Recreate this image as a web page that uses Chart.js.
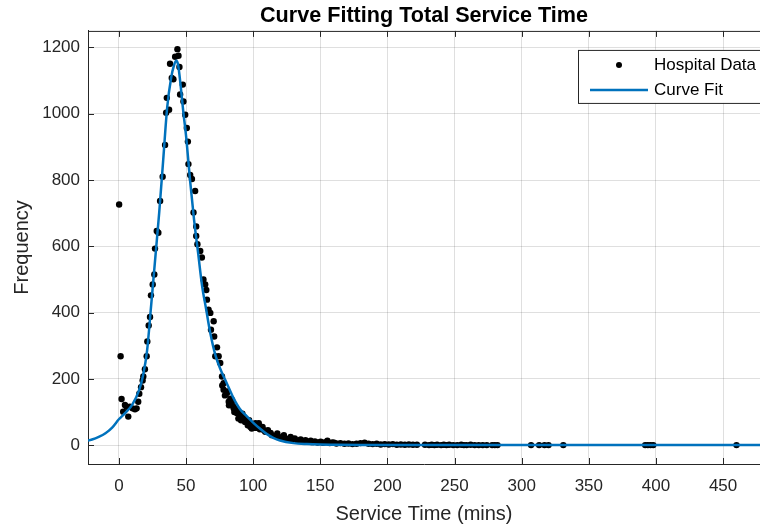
<!DOCTYPE html>
<html>
<head>
<meta charset="utf-8">
<title>Curve Fitting Total Service Time</title>
<script src="https://cdn.jsdelivr.net/npm/chart.js@4.4.1/dist/chart.umd.min.js"></script>
<style>
    body { margin: 0; background: #fff; overflow: hidden; }
    canvas { display: block; }
</style>
</head>
<body>
<canvas id="fitChart" width="760" height="529"></canvas>
<script>
// hospital data (service time in mins, frequency)
const dataX = [
    0.2, 1.3, 2, 3.2, 4.5, 5.8, 7, 8.2, 10.2, 12, 13.2, 14.4, 15.2, 16.5, 17.7, 18.2, 19.4, 20.7,
    21.2, 22.2, 23.2, 23.9, 25.2, 26.4, 26.9, 28.2, 29.4, 30.7, 32.6, 34.4, 35.2, 35.7, 37.4, 38.1,
    39.4, 40.6, 41.9, 43.6, 44.4, 45.1, 45.6, 47.6, 48.1, 49.4, 50.6, 51.4, 51.8, 53.1, 54.4, 55.6,
    56.8, 57.6, 57.6, 58.5, 60.6, 61.8, 63, 64.3, 65.1, 65.6, 66.8, 68.1, 68.6, 70.6, 71, 71.8,
    73.1, 74.3, 75.5, 76.8, 77, 78, 78, 79, 80.5, 80.6, 81.8, 82, 83, 84.3, 84.3, 85.5, 85.5, 86,
    87, 88, 88, 89, 90.5, 91, 92, 93, 93, 94, 95.5, 96, 97, 98, 98, 99, 100, 101.7, 102, 104.2,
    105, 107, 108, 109, 111, 113, 114, 116, 118, 119, 121, 122.9, 124, 126, 127.9, 129, 131, 133,
    135.4, 137, 139, 141, 142.9, 144, 146, 148, 150.3, 152, 154, 155.3, 157, 159, 160.3, 162, 165,
    168, 171, 174, 177, 180, 183, 186, 189, 192, 195, 198, 201, 204, 207, 210, 213, 216, 219, 222,
    228, 231, 233, 235, 237, 240, 242, 244, 246, 249, 252, 255, 257, 259, 262, 265, 268, 271, 274,
    278, 280, 282, 307, 313, 317, 320, 331, 392, 394, 396, 398, 460
];
const dataY = [
    726, 268, 139, 101, 121, 116, 86, 116, 111, 108, 111, 131, 155, 175, 195, 207, 229, 268,
    313, 361, 387, 452, 485, 515, 593, 646, 641, 737, 810, 906, 1003, 1048, 1012, 1151,
    1108, 1104, 1172, 1195, 1175, 1141, 1058, 1088, 1037, 997, 957, 916, 848, 815, 803, 702,
    767, 660, 631, 606, 586, 566, 500, 485, 468, 439, 409, 399, 348, 374, 328, 268,
    295, 268, 248, 207, 180, 187, 167, 150, 157, 162, 131, 120, 140, 136, 131, 116, 111, 100,
    110, 101, 96, 80, 91, 75, 95, 86, 81, 70, 71, 60, 75, 55, 61, 50, 58, 66, 52, 66,
    48, 55, 45, 40, 45, 37, 30, 28, 35, 25, 22, 30, 20, 18, 25, 16, 20, 14,
    17, 12, 15, 10, 13, 9, 11, 8, 10, 7, 9, 13, 6, 8, 7, 5, 6,
    4, 5, 3, 4, 6, 7, 4, 3, 4, 2, 3, 2, 3, 1, 2, 1, 2, 1, 1,
    1, 0, 1, 0, 1, 0, 1, 0, 1, 0, 0, 1, 0, 0, 1, 0, 0, 0, 0,
    0, 0, 0, 0, 0, 0, 0, 0, 0, 0, 0, 0, 0
];

// fitted curve
const fitX = [
    -25, -20, -15, -10, -5, 0, 5, 10, 15, 18, 21, 24, 27, 30, 33, 36, 39, 41, 42.6, 44, 46, 48,
    50, 53, 56, 59, 62, 65, 68, 72, 76, 80, 85, 90, 95, 100, 105, 110, 115, 120, 130, 140, 150,
    160, 180, 200, 250, 300, 350, 400, 480
];
const fitY = [
    12, 17, 25, 36, 53, 78, 98, 122, 165, 210, 285, 420, 560, 700, 860, 1020, 1110, 1145, 1160,
    1150, 1085, 1005, 935, 800, 680, 580, 480, 410, 340, 270, 225, 190, 145, 110, 88, 68, 50,
    34, 22, 14, 6, 3, 1.5, 1, 0.3, 0, 0, 0, 0, 0, 0
];

// tick labels
const xTickValues = [0, 50, 100, 150, 200, 250, 300, 350, 400, 450];
const yTickValues = [0, 200, 400, 600, 800, 1000, 1200];

const fontFamily = "'Liberation Sans', Arial, Helvetica, sans-serif";
const axisColor = '#262626';
const fitColor = '#0072BD';

function toPoints(xs, ys) {
    return xs.map((x, i) => ({ x: x, y: ys[i] }));
}

// axes box with inward ticks + legend like matlab
const matlabBox = {
    id: 'matlabBox',
    afterDatasetsDraw(chart) {
        const ctx = chart.ctx;
        const a = chart.chartArea;
        const sx = chart.scales.x;
        const sy = chart.scales.y;
        ctx.save();
        ctx.strokeStyle = axisColor;
        ctx.lineWidth = 1;
        ctx.beginPath();
        ctx.moveTo(a.left, a.top + 0.5);
        ctx.lineTo(a.right, a.top + 0.5);
        sx.ticks.forEach(t => {
            const px = Math.round(sx.getPixelForValue(t.value)) + 0.5;
            ctx.moveTo(px, a.bottom);
            ctx.lineTo(px, a.bottom - 6);
            ctx.moveTo(px, a.top);
            ctx.lineTo(px, a.top + 6);
        });
        sy.ticks.forEach(t => {
            const py = Math.round(sy.getPixelForValue(t.value)) + 0.5;
            ctx.moveTo(a.left, py);
            ctx.lineTo(a.left + 6, py);
        });
        ctx.stroke();

        // legend
        const ds = chart.data.datasets;
        const lx = a.right - 182;
        const ly = a.top + 19;
        ctx.fillStyle = '#fff';
        ctx.fillRect(lx, ly, 200, 53);
        ctx.strokeStyle = axisColor;
        ctx.strokeRect(lx + 0.5, ly + 0.5, 200, 53);

        ctx.fillStyle = ds[0].backgroundColor;
        ctx.beginPath();
        ctx.arc(lx + 41, ly + 15, 3, 0, Math.PI * 2);
        ctx.fill();

        ctx.strokeStyle = ds[1].borderColor;
        ctx.lineWidth = ds[1].borderWidth;
        ctx.beginPath();
        ctx.moveTo(lx + 12, ly + 40);
        ctx.lineTo(lx + 70, ly + 40);
        ctx.stroke();

        ctx.fillStyle = '#000';
        ctx.font = '17px ' + fontFamily;
        ctx.textBaseline = 'middle';
        ctx.textAlign = 'left';
        ctx.fillText(ds[0].label, lx + 76, ly + 15);
        ctx.fillText(ds[1].label, lx + 76, ly + 40);
        ctx.restore();
    }
};

const ctxFit = document.getElementById('fitChart').getContext('2d');
const fitChart = new Chart(ctxFit, {
    type: 'scatter',
    data: {
        datasets: [{
            label: 'Hospital Data',
            data: toPoints(dataX, dataY),
            backgroundColor: '#000',
            borderWidth: 0,
            pointRadius: 3.2,
            order: 1
        }, {
            label: 'Curve Fit',
            data: toPoints(fitX, fitY),
            showLine: true,
            borderColor: fitColor,
            backgroundColor: fitColor,
            borderWidth: 2.5,
            pointRadius: 0,
            cubicInterpolationMode: 'monotone',
            order: 0
        }]
    },
    options: {
        responsive: false,
        animation: false,
        devicePixelRatio: 1,
        layout: { padding: 0, autoPadding: false },
        plugins: {
            legend: { display: false },
            tooltip: { enabled: false },
            title: {
                display: true,
                text: 'Curve Fitting Total Service Time',
                color: '#000',
                fullSize: false,
                font: { family: fontFamily, size: 21.6, weight: 'bold' },
                padding: { top: 3, bottom: 2 }
            }
        },
        scales: {
            x: {
                type: 'linear',
                min: -23,
                max: 477.5,
                afterBuildTicks(scale) { scale.ticks = xTickValues.map(v => ({ value: v })); },
                afterFit(scale) { scale.height = 65; },
                border: { color: axisColor, width: 1 },
                grid: { color: 'rgba(38,38,38,0.15)', drawTicks: false },
                ticks: {
                    maxRotation: 0,
                    autoSkip: false,
                    padding: 12,
                    color: axisColor,
                    font: { family: fontFamily, size: 17 },
                    callback: v => String(v)
                },
                title: {
                    display: true,
                    text: 'Service Time (mins)',
                    color: axisColor,
                    font: { family: fontFamily, size: 20 },
                    padding: { top: 0, bottom: 3 }
                }
            },
            y: {
                type: 'linear',
                min: -57,
                max: 1250,
                afterBuildTicks(scale) { scale.ticks = yTickValues.map(v => ({ value: v })); },
                afterFit(scale) { scale.width = 88; },
                border: { color: axisColor, width: 1 },
                grid: { color: 'rgba(38,38,38,0.15)', drawTicks: false },
                ticks: {
                    autoSkip: false,
                    padding: 8,
                    color: axisColor,
                    font: { family: fontFamily, size: 17 },
                    callback: v => String(v)
                },
                title: {
                    display: true,
                    text: 'Frequency',
                    color: axisColor,
                    font: { family: fontFamily, size: 20 },
                    padding: { top: 10, bottom: 0 }
                }
            }
        }
    },
    plugins: [matlabBox]
});
</script>
</body>
</html>
